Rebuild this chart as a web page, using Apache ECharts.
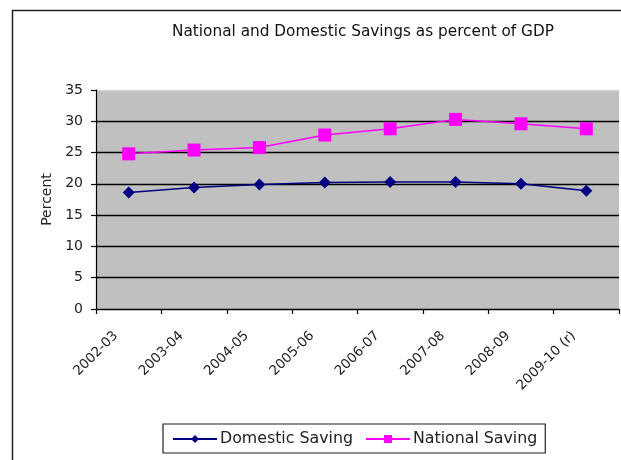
<!DOCTYPE html>
<html>
<head>
<meta charset="utf-8">
<script src="https://cdn.jsdelivr.net/npm/echarts@6/dist/echarts.min.js"></script>
<style>
html,body{margin:0;padding:0;background:#fff;}
#chart{width:621px;height:460px;}
</style>
</head>
<body>
<div id="chart"></div>
<script>
const categories = ['2002-03','2003-04','2004-05','2005-06','2006-07','2007-08','2008-09','2009-10 (r)'];
const domesticSaving = [18.6, 19.4, 19.9, 20.2, 20.3, 20.3, 20.0, 18.9];
const nationalSaving = [24.8, 25.4, 25.8, 27.8, 28.8, 30.3, 29.6, 28.8];
const yTicks = [0, 5, 10, 15, 20, 25, 30, 35];

const font = 'DejaVu Sans, sans-serif';
const chart = echarts.init(document.getElementById('chart'), null, {renderer: 'canvas'});
chart.setOption({
  animation: false,
  backgroundColor: '#fff',
  title: {
    text: 'National and Domestic Savings as percent of GDP',
    left: 358, top: 20, textAlign: 'center',
    textStyle: {fontFamily: font, fontSize: 15.3, fontWeight: 'normal', color: '#111'}
  },
  graphic: [{
    type: 'rect', left: 10, top: 8, z: -1,
    shape: {width: 640, height: 480},
    style: {fill: 'none', stroke: '#222', lineWidth: 1.5}
  }],
  grid: {left: 96, right: 2, top: 90, bottom: 151, show: true, backgroundColor: '#C0C0C0', borderWidth: 0},
  legend: {
    left: 163, top: 424,
    data: ['Domestic Saving', 'National Saving'],
    itemWidth: 44, itemHeight: 10, itemGap: 12,
    borderColor: '#222', borderWidth: 1.2, padding: [7, 8, 6, 9],
    textStyle: {fontFamily: font, fontSize: 15.8, color: '#222', padding: [0, 0, 0, -2]}
  },
  xAxis: {
    type: 'category', data: categories, boundaryGap: true,
    axisLine: {lineStyle: {color: '#000', width: 1.2}},
    axisTick: {show: true, lineStyle: {color: '#000', width: 1.2}, length: 5},
    axisLabel: {rotate: 45, fontFamily: font, fontSize: 13.5, color: '#222', margin: 12, interval: 0, padding: [0, 18, 0, 0]}
  },
  yAxis: {
    type: 'value', min: yTicks[0], max: yTicks[yTicks.length-1], interval: 5,
    name: 'Percent', nameLocation: 'middle', nameGap: 42,
    nameTextStyle: {fontFamily: font, fontSize: 14, color: '#222'},
    axisLine: {show: true, lineStyle: {color: '#000', width: 1.2}},
    axisTick: {show: true, lineStyle: {color: '#000', width: 1.2}, length: 5},
    axisLabel: {fontFamily: font, fontSize: 14, color: '#222', margin: 13},
    splitLine: {show: true, lineStyle: {color: ['#000','#000','#000','#000','#000','#000','#000','#d8d8d8'], width: 1.3}}
  },
  series: [{
    name: 'Domestic Saving', type: 'line', data: domesticSaving,
    symbol: 'diamond', symbolSize: 12,
    lineStyle: {color: '#000080', width: 1.5},
    itemStyle: {color: '#000080'}
  }, {
    name: 'National Saving', type: 'line', data: nationalSaving,
    symbol: 'rect', symbolSize: 13,
    lineStyle: {color: '#FF00FF', width: 1.5},
    itemStyle: {color: '#FF00FF'}
  }]
});
</script>
</body>
</html>
